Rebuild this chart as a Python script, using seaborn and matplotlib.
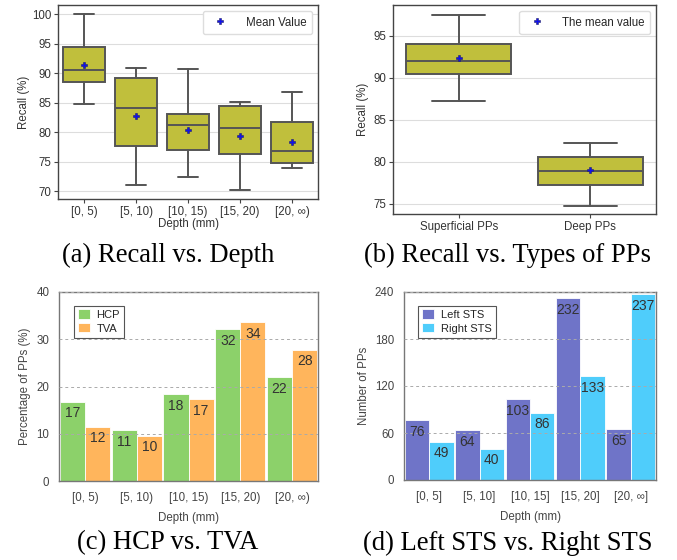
import matplotlib
matplotlib.use('Agg')
import matplotlib.pyplot as plt
from matplotlib.lines import Line2D
import seaborn as sns
import pandas as pd
import numpy as np

# ---- data ----
depth_open = ['[0, 5)', '[5, 10)', '[10, 15)', '[15, 20)', '[20, ∞)']
depth_closed = ['[0, 5]', '[5, 10]', '[10, 15]', '[15, 20]', '[20, ∞]']

# (a) recall by depth: whisker low, q1, median, q3, whisker high, mean
depth_whislo = [84.8, 71.1, 72.5, 70.2, 74.0]
depth_q1 = [88.5, 77.7, 77.0, 76.4, 74.8]
depth_med = [90.5, 84.1, 81.2, 80.7, 76.9]
depth_q3 = [94.4, 89.2, 83.1, 84.4, 81.8]
depth_whishi = [100.0, 90.9, 90.7, 85.2, 86.8]
depth_mean = [91.5, 82.8, 80.4, 79.4, 78.4]

# (b) recall by type of PP
pp_types = ['Superficial PPs', 'Deep PPs']
type_whislo = [87.2, 74.8]
type_q1 = [90.5, 77.2]
type_med = [92.0, 78.9]
type_q3 = [94.0, 80.6]
type_whishi = [97.5, 82.3]
type_mean = [92.4, 79.0]

# (c) percentage of PPs
hcp_pct = [16.8, 10.7, 18.4, 32.2, 22.0]
tva_pct = [11.5, 9.6, 17.4, 33.6, 27.8]

# (d) number of PPs
left_sts = [76, 64, 103, 232, 65]
right_sts = [49, 40, 86, 133, 237]

BOX_COLOR = '#c0bf3c'
EDGE = '#555555'
FS = 8.3

sns.set_style('whitegrid')
plt.rcParams['font.family'] = ['Liberation Sans', 'DejaVu Sans']

fig = plt.figure(figsize=(6.77, 5.6), dpi=100)


def make_stats(labels, lo, q1, med, q3, hi, mean):
    return [dict(label=l, whislo=a, q1=b, med=c, q3=d, whishi=e, mean=f, fliers=[])
            for l, a, b, c, d, e, f in zip(labels, lo, q1, med, q3, hi, mean)]


def draw_box(ax, stats, legend_text, ylim, yticks):
    ax.bxp(stats, positions=range(len(stats)), widths=0.8, patch_artist=True,
           showmeans=True, capwidths=0.4,
           boxprops=dict(facecolor=BOX_COLOR, edgecolor=EDGE, linewidth=1.4),
           whiskerprops=dict(color=EDGE, linewidth=1.4),
           capprops=dict(color=EDGE, linewidth=1.4),
           medianprops=dict(color=EDGE, linewidth=1.4),
           meanprops=dict(marker='P', markerfacecolor='#1010ee',
                          markeredgecolor='#222266', markersize=5, markeredgewidth=0.4))
    ax.set_xlim(-0.5, len(stats) - 0.5)
    ax.set_ylim(*ylim)
    ax.set_yticks(yticks)
    ax.grid(axis='x', visible=False)
    ax.grid(axis='y', color='#dddddd', linewidth=0.8)
    for s in ax.spines.values():
        s.set_color('#444444')
        s.set_linewidth(1.0)
    ax.tick_params(axis='both', which='both', length=3, color='#444444',
                   labelsize=FS, labelcolor='#333333', pad=2, bottom=True, left=True)
    handle = Line2D([], [], linestyle='none', marker='P', markerfacecolor='#1010ee',
                    markeredgecolor='#222266', markersize=5, markeredgewidth=0.4)
    ax.legend([handle], [legend_text], loc='upper right', fontsize=FS,
              frameon=True, framealpha=1, edgecolor='#dddddd', borderpad=0.5,
              handletextpad=1.2)


# (a)
ax_a = fig.add_axes([58 / 677, 1 - 199 / 560, 260 / 677, 194 / 560])
draw_box(ax_a, make_stats(depth_open, depth_whislo, depth_q1, depth_med, depth_q3,
                          depth_whishi, depth_mean),
         'Mean Value', (68.7, 101.6), [70, 75, 80, 85, 90, 95, 100])
ax_a.set_xlabel('Depth (mm)', fontsize=FS, color='#333333', labelpad=0)
ax_a.set_ylabel('Recall (%)', fontsize=FS, color='#333333', labelpad=1)

# (b)
ax_b = fig.add_axes([393 / 677, 1 - 214 / 560, 263 / 677, 209 / 560])
draw_box(ax_b, make_stats(pp_types, type_whislo, type_q1, type_med, type_q3,
                          type_whishi, type_mean),
         'The mean value', (73.8, 98.65), [75, 80, 85, 90, 95])
ax_b.set_ylabel('Recall (%)', fontsize=FS, color='#333333', labelpad=3)
ax_b.set_xlabel('')


def draw_bars(ax, labels, s1, s2, n1, n2, c1, c2, ylim, yticks, ylabel, fmt):
    df = pd.DataFrame({'depth': labels * 2,
                       'value': list(s1) + list(s2),
                       'series': [n1] * len(labels) + [n2] * len(labels)})
    sns.barplot(data=df, x='depth', y='value', hue='series', order=labels,
                hue_order=[n1, n2], palette=[c1, c2], width=0.97, saturation=1,
                edgecolor='#ffffff', linewidth=0.6, ax=ax)
    for cont in ax.containers:
        ax.bar_label(cont, fmt=fmt, padding=-13.5, fontsize=10, color='#333333')
    ax.set_xlim(-0.5, len(labels) - 0.5)
    ax.set_ylim(*ylim)
    ax.set_yticks(yticks)
    ax.grid(axis='x', visible=False)
    ax.grid(axis='y', color='#aaaaaa', linestyle=(0, (3, 3)), linewidth=0.7)
    ax.set_axisbelow(False)
    for s in ax.spines.values():
        s.set_color('#777777')
        s.set_linewidth(1.0)
    ax.tick_params(axis='both', length=0, labelsize=FS, labelcolor='#444444', pad=7)
    ax.tick_params(axis='x', pad=8)
    ax.set_xlabel('Depth (mm)', fontsize=FS, color='#444444', labelpad=6)
    ax.set_ylabel(ylabel, fontsize=FS, color='#444444', labelpad=3.5)
    leg = ax.legend(loc='upper left', bbox_to_anchor=(0.057, 0.928), fontsize=8,
                    frameon=True, fancybox=False, framealpha=1, edgecolor='#555555',
                    handlelength=1.1, handleheight=0.9, borderpad=0.35,
                    labelspacing=0.3, handletextpad=0.6, borderaxespad=0)
    leg.get_frame().set_linewidth(0.8)
    leg.set_title(None)


# (c)
ax_c = fig.add_axes([59 / 677, 1 - 481 / 560, 259 / 677, 189 / 560])
draw_bars(ax_c, depth_open, hcp_pct, tva_pct, 'HCP', 'TVA', '#8cd16a', '#ffb55c',
          (0, 40), [0, 10, 20, 30, 40], 'Percentage of PPs (%)', '%.0f')

# (d)
ax_d = fig.add_axes([404 / 677, 1 - 480 / 560, 252 / 677, 188 / 560])
draw_bars(ax_d, depth_closed, left_sts, right_sts, 'Left STS', 'Right STS',
          '#6f74c8', '#4fcdfb', (0, 240), [0, 60, 120, 180, 240], 'Number of PPs', '%d')

# captions
cap = dict(fontsize=19.2, family=['Liberation Serif', 'DejaVu Serif'], color='black',
           ha='center', va='center')
fig.text(168 / 677, 1 - 255 / 560, '(a) Recall vs. Depth', **cap)
fig.text(507 / 677, 1 - 255 / 560, '(b) Recall vs. Types of PPs', **cap)
fig.text(168 / 677, 1 - 543 / 560, '(c) HCP vs. TVA', **cap)
fig.text(508 / 677, 1 - 543 / 560, '(d) Left STS vs. Right STS', **cap)

fig.savefig('out.png', dpi=100)
plt.close(fig)
